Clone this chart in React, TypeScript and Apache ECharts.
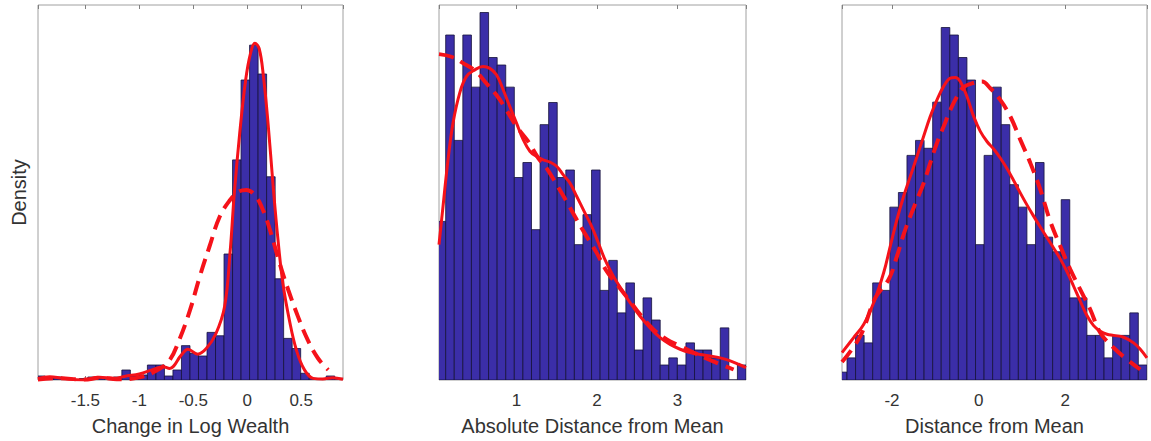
import { useEffect, useRef } from "react";
import * as echarts from "echarts";

// ---------- Panel 1: Change in Log Wealth ----------
const p1Range = [-1.939, 0.887];
const p1BinStart = -1.951;
const p1BinWidth = 0.0789;
const p1Heights = [
  1.07, 0.4, 0.8, 0.4, 0, 0.4, 0.8, 0.4, 0, 0.8, 2.67, 1.07, 1.33, 4.0, 4.0, 1.07, 2.67, 9.16,
  7.1, 6.4, 12.7, 11.8, 33.6, 58.7, 80.0, 89.3, 81.6, 54.2, 27.0, 11.1, 8.4, 1.8, 0.44, 0.2, 1.07, 0.44,
];
const p1Solid = [
  [-1.94, 0.44], [-1.83, 0.89], [-1.71, 0.44], [-1.52, 0], [-1.37, 0.71], [-1.24, 0.44],
  [-1.12, 1.07], [-1.0, 1.6], [-0.87, 2.84], [-0.78, 3.56], [-0.72, 3.1], [-0.61, 6.7],
  [-0.55, 8.2], [-0.46, 6.9], [-0.38, 8.4], [-0.29, 12.4], [-0.21, 19.6], [-0.16, 33.8],
  [-0.12, 49.8], [-0.07, 65.8], [-0.015, 80.0], [0.03, 87.1], [0.07, 89.8], [0.11, 88.4],
  [0.15, 80.9], [0.195, 67.6], [0.24, 51.6], [0.285, 37.3], [0.33, 25.8], [0.39, 16.0],
  [0.455, 8.0], [0.53, 2.7], [0.61, 0.44], [0.7, 0.27], [0.79, 0.62], [0.887, 0.18],
];
const p1Dashed = [
  [-1.94, 0.1], [-1.75, 0.5], [-1.52, 0.1], [-1.35, 0.6], [-1.21, 0.2], [-1.0, 0.7],
  [-0.84, 2.5], [-0.72, 5.3], [-0.63, 10.7], [-0.53, 18.7], [-0.44, 27.6], [-0.35, 35.6],
  [-0.255, 43.6], [-0.16, 48.0], [-0.085, 50.2], [-0.008, 50.7], [0.07, 49.3], [0.146, 45.3],
  [0.22, 39.1], [0.3, 31.1], [0.38, 24.0], [0.47, 16.9], [0.56, 10.7], [0.655, 5.8], [0.75, 2.7],
];

// ---------- Panel 2: Absolute Distance from Mean ----------
const p2Range = [0.037, 3.851];
const p2BinStart = 0.0134;
const p2BinWidth = 0.1066;
const p2Heights = [
  42.3, 92.0, 63.9, 92.0, 78.1, 98.0, 86.0, 84.0, 78.1, 54.0, 58.0, 40.1, 68.1, 74.0, 54.0, 56.0,
  36.1, 44.1, 56.0, 23.9, 31.9, 17.9, 25.9, 8.0, 21.9, 16.0, 4.0, 5.9, 4.0, 9.9, 8.0, 8.0, 5.9, 13.9, 0, 4.0,
];
const p2Solid = [
  [0.037, 36.1], [0.087, 46.3], [0.149, 58.7], [0.211, 68.5], [0.294, 76.5], [0.377, 80.9],
  [0.481, 82.7], [0.585, 83.6], [0.668, 83.1], [0.751, 81.4], [0.834, 77.4], [0.917, 72.9],
  [1.0, 68.5], [1.083, 64.1], [1.166, 61.0], [1.249, 59.6], [1.332, 58.7], [1.415, 58.1],
  [1.498, 57.0], [1.581, 54.7], [1.664, 52.5], [1.747, 49.0], [1.851, 44.5], [1.933, 41.0],
  [2.016, 36.6], [2.099, 32.1], [2.203, 27.7], [2.307, 24.1], [2.411, 20.6], [2.535, 17.0],
  [2.66, 13.9], [2.784, 11.3], [2.908, 9.5], [3.033, 8.2], [3.157, 7.3], [3.282, 6.8],
  [3.407, 6.4], [3.531, 5.9], [3.655, 5.1], [3.759, 4.2], [3.851, 3.3],
];
const p2Dashed = [
  [0.037, 86.9], [0.191, 86.2], [0.336, 84.5], [0.494, 82.3], [0.626, 79.1], [0.751, 76.0],
  [0.875, 72.0], [1.0, 67.6], [1.145, 63.6], [1.27, 59.2], [1.373, 56.5], [1.498, 52.1],
  [1.622, 47.6], [1.747, 42.8], [1.871, 38.3], [1.996, 33.9], [2.12, 29.0], [2.265, 25.0],
  [2.411, 21.0], [2.535, 17.5], [2.701, 13.5], [2.867, 10.8], [3.033, 9.1], [3.199, 7.3],
  [3.365, 5.7], [3.531, 4.2], [3.697, 2.8],
];

// ---------- Panel 3: Distance from Mean ----------
const p3Range = [-3.153, 3.884];
const p3BinStart = -3.2357;
const p3BinWidth = 0.1977;
const p3Heights = [
  2.1, 5.9, 11.9, 9.9, 25.9, 23.9, 46.1, 50.0, 59.9, 63.9, 61.8, 74.1, 94.0, 92.0, 86.0, 80.0,
  36.1, 59.9, 78.1, 68.1, 52.1, 46.1, 36.1, 58.0, 38.1, 34.2, 48.1, 21.9, 21.9, 11.9, 11.9, 5.9,
  11.9, 11.9, 17.9, 4.0,
];
const p3Solid = [
  [-3.153, 7.3], [-2.884, 11.3], [-2.654, 14.8], [-2.423, 20.6], [-2.192, 28.6], [-2.039, 35.7],
  [-1.885, 42.8], [-1.731, 49.0], [-1.577, 54.3], [-1.423, 59.6], [-1.269, 65.0], [-1.116, 70.3],
  [-0.962, 74.7], [-0.808, 78.3], [-0.654, 80.5], [-0.539, 80.7], [-0.424, 79.6], [-0.27, 75.6],
  [-0.116, 70.3], [0.038, 66.3], [0.192, 63.6], [0.345, 61.6], [0.499, 59.2], [0.653, 56.4],
  [0.807, 53.2], [0.96, 49.9], [1.114, 46.7], [1.268, 43.7], [1.422, 40.8], [1.576, 38.0],
  [1.729, 35.2], [1.883, 32.3], [2.037, 28.9], [2.191, 25.0], [2.345, 21.0], [2.498, 17.2],
  [2.652, 14.5], [2.806, 13.0], [2.96, 12.2], [3.114, 11.9], [3.344, 11.4], [3.575, 9.9],
  [3.729, 8.2], [3.883, 5.9],
];
const p3Dashed = [
  [-3.153, 4.8], [-2.731, 11.7], [-2.385, 21.9], [-2.077, 26.8], [-1.885, 33.0], [-1.731, 38.8],
  [-1.577, 43.7], [-1.423, 48.1], [-1.269, 52.5], [-1.116, 57.9], [-0.962, 63.2], [-0.808, 67.6],
  [-0.654, 72.0], [-0.5, 75.6], [-0.347, 78.1], [-0.155, 79.1], [0.076, 79.6], [0.269, 77.8],
  [0.499, 74.7], [0.73, 70.3], [0.96, 64.1], [1.191, 57.9], [1.422, 50.8], [1.652, 42.3],
  [1.883, 35.7], [2.114, 29.5], [2.345, 24.1], [2.575, 18.8], [2.806, 12.6], [3.114, 8.6],
  [3.421, 5.5], [3.729, 2.8],
];

const xNames = ["Change in Log Wealth", "Absolute Distance from Mean", "Distance from Mean"];
const yName = "Density";

const panels = [
  { range: p1Range, start: p1BinStart, width: p1BinWidth, heights: p1Heights, solid: p1Solid, dashed: p1Dashed, split: 5 },
  { range: p2Range, start: p2BinStart, width: p2BinWidth, heights: p2Heights, solid: p2Solid, dashed: p2Dashed, split: 5 },
  { range: p3Range, start: p3BinStart, width: p3BinWidth, heights: p3Heights, solid: p3Solid, dashed: p3Dashed, split: 3 },
];

const gridBoxes = [
  { left: 38, width: 305 },
  { left: 439, width: 307 },
  { left: 842, width: 305 },
];

const FONT = "'Liberation Sans', Arial, Helvetica, sans-serif";
const BAR = "#3b2ea8";
const EDGE = "#15123a";
const RED = "#f5121a";
const FRAME = "#a0a0a0";
const TEXT = "#333333";

export default function App() {
  const ref = useRef<HTMLDivElement>(null);
  useEffect(() => {
    if (!ref.current) return;
    const chart = echarts.init(ref.current, null, { renderer: "svg" });

    const grid = gridBoxes.map((g) => ({
      left: g.left,
      width: g.width,
      top: 5,
      height: 375,
      show: true,
      borderColor: FRAME,
      borderWidth: 1,
      backgroundColor: "#ffffff",
    }));

    const xAxis: any[] = [];
    const yAxis: any[] = [];
    const series: any[] = [];

    panels.forEach((p, i) => {
      const common = {
        type: "value",
        gridIndex: i,
        min: p.range[0],
        max: p.range[1],
        splitNumber: p.split,
        axisLine: { show: false },
        splitLine: { show: false },
        axisTick: { show: true, inside: true, length: 4, lineStyle: { color: "#808080", width: 1 } },
      };
      xAxis.push({
        ...common,
        position: "bottom",
        axisLabel: {
          show: true,
          showMinLabel: false,
          showMaxLabel: false,
          fontSize: 17,
          color: TEXT,
          fontFamily: FONT,
          margin: 12,
        },
        name: xNames[i],
        nameLocation: "middle",
        nameGap: 36,
        nameTextStyle: { fontSize: 20, color: TEXT, fontFamily: FONT },
      });
      xAxis.push({
        ...common,
        position: "top",
        axisLabel: { show: false },
      });
      yAxis.push({
        type: "value",
        gridIndex: i,
        min: 0,
        max: 100,
        axisLine: { show: false },
        axisTick: { show: false },
        axisLabel: { show: false },
        splitLine: { show: false },
        name: i === 0 ? yName : "",
        nameLocation: "middle",
        nameGap: 9,
        nameTextStyle: { fontSize: 20, color: TEXT, fontFamily: FONT },
      });

      const bins = p.heights.map((h, k) => [p.start + k * p.width, p.start + (k + 1) * p.width, h]);
      series.push({
        type: "custom",
        xAxisIndex: i * 2,
        yAxisIndex: i,
        clip: true,
        encode: { x: [0, 1], y: 2 },
        data: bins,
        renderItem: (_params: any, api: any) => {
          const a = api.coord([api.value(0), 0]);
          const b = api.coord([api.value(1), api.value(2)]);
          return {
            type: "rect",
            shape: { x: a[0], y: b[1], width: b[0] - a[0], height: a[1] - b[1] },
            style: { fill: BAR, stroke: EDGE, lineWidth: 0.8 },
          };
        },
        z: 2,
      });
      series.push({
        type: "line",
        xAxisIndex: i * 2,
        yAxisIndex: i,
        data: p.dashed,
        smooth: 0.4,
        symbol: "none",
        clip: true,
        lineStyle: { color: RED, width: 4, type: [15, 8] },
        z: 3,
      });
      series.push({
        type: "line",
        xAxisIndex: i * 2,
        yAxisIndex: i,
        data: p.solid,
        smooth: 0.4,
        symbol: "none",
        clip: true,
        lineStyle: { color: RED, width: 3 },
        z: 4,
      });
    });

    chart.setOption({
      animation: false,
      backgroundColor: "#ffffff",
      grid,
      xAxis,
      yAxis,
      series,
    });
    return () => chart.dispose();
  }, []);
  return <div ref={ref} style={{ position: "absolute", left: 0, top: 0, width: 1151, height: 441 }} />;
}
